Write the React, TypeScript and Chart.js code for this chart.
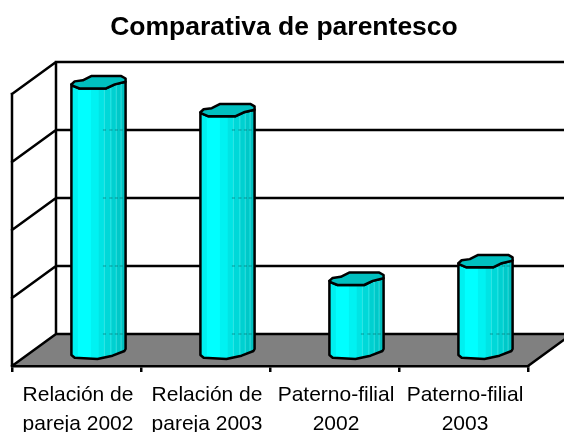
import React, { useEffect, useRef } from "react";
import { Chart, registerables } from "chart.js";

Chart.register(...registerables);

const categories = [
  ["Relación de", "pareja 2002"],
  ["Relación de", "pareja 2003"],
  ["Paterno-filial", "2002"],
  ["Paterno-filial", "2003"],
];
const values = [3.94, 3.53, 1.05, 1.31];
const titleText = "Comparativa de parentesco";

const DEPTH_X = 44;
const DEPTH_Y = 32;
const LINE = 2.5;

// cap and foot outlines of the low-polygon cylinder, as offsets from the axis
const capOutline: [number, number][] = [
  [-0.5, 2.3], [-0.44, -0.7], [-0.29, -1.8], [-0.135, -6], [0.42, -6], [0.5, -3.6],
  [0.5, -0.3], [0.3, 2.3], [0.14, 6.4], [-0.35, 6.4], [-0.47, 3.7],
];
const capFront: [number, number][] = [
  [0.5, -0.3], [0.3, 2.3], [0.14, 6.4], [-0.35, 6.4], [-0.47, 3.7], [-0.5, 2.3],
];
const footFront: [number, number][] = [
  [-0.5, 5], [-0.44, 7.7], [-0.02, 9], [0.26, 5.7], [0.48, 1], [0.5, -1],
];
const stripStops = [0, 0.12, 0.36, 0.5, 0.6, 0.72, 0.82, 0.91, 1];
const stripColors = ["#00F0F0", "#00FFFF", "#00F2F2", "#00E4E4", "#00D8D8", "#00D0D0", "#00C8C8", "#00C0C0"];

const scene3d = {
  id: "scene3d",
  beforeDraw(chart: any) {
    const { ctx, chartArea: a, scales } = chart;
    const y = scales.y;
    const y0 = y.getPixelForValue(y.min);
    const y1 = y.getPixelForValue(y.max);
    ctx.save();
    ctx.fillStyle = "#808080";
    ctx.beginPath();
    ctx.moveTo(a.left, y0);
    ctx.lineTo(a.right, y0);
    ctx.lineTo(a.right + DEPTH_X, y0 - DEPTH_Y);
    ctx.lineTo(a.left + DEPTH_X, y0 - DEPTH_Y);
    ctx.closePath();
    ctx.fill();
    ctx.strokeStyle = "#000";
    ctx.lineWidth = LINE;
    ctx.lineCap = "square";
    ctx.beginPath();
    for (const t of y.ticks) {
      const p = y.getPixelForValue(t.value);
      ctx.moveTo(a.left, p);
      ctx.lineTo(a.left + DEPTH_X, p - DEPTH_Y);
      ctx.lineTo(a.right + DEPTH_X, p - DEPTH_Y);
    }
    ctx.moveTo(a.left, y1);
    ctx.lineTo(a.left, y0);
    ctx.moveTo(a.left + DEPTH_X, y1 - DEPTH_Y);
    ctx.lineTo(a.left + DEPTH_X, y0 - DEPTH_Y);
    ctx.moveTo(a.right, y0);
    ctx.lineTo(a.right + DEPTH_X, y0 - DEPTH_Y);
    ctx.stroke();
    ctx.restore();
  },
  beforeDatasetsDraw(chart: any) {
    const { ctx, scales } = chart;
    const meta = chart.getDatasetMeta(0);
    const color = chart.data.datasets[0].backgroundColor;
    for (const bar of meta.data) {
      const { x, y, base, width } = bar.getProps(["x", "y", "base", "width"], true);
      const cx = x + DEPTH_X / 2;
      const top = y - DEPTH_Y / 2;
      const foot = base - DEPTH_Y / 2;
      const left = cx - width / 2;
      const body = () => {
        ctx.beginPath();
        capFront.forEach(([u, v], i) => {
          const px = cx + u * width;
          if (i === 0) ctx.moveTo(px, top + v);
          else ctx.lineTo(px, top + v);
        });
        footFront.forEach(([u, v]) => ctx.lineTo(cx + u * width, foot + v));
        ctx.closePath();
      };
      ctx.save();
      body();
      ctx.fillStyle = color;
      ctx.fill();
      ctx.clip();
      stripColors.forEach((c, i) => {
        ctx.fillStyle = c;
        const a = left + stripStops[i] * width;
        const b = left + stripStops[i + 1] * width;
        ctx.fillRect(a, top - 10, b - a, foot - top + 30);
        if (i >= 4) {
          ctx.fillStyle = "rgba(140,255,255,0.35)";
          ctx.fillRect(a, top - 10, 1, foot - top + 30);
          // the grid behind shows faintly through the seams of the facets
          ctx.fillStyle = "rgba(0,70,70,0.25)";
          for (const t of scales.y.ticks) {
            const p = scales.y.getPixelForValue(t.value) - DEPTH_Y;
            ctx.fillRect(a - 1, p - 1, 3, 2);
          }
        }
      });
      ctx.restore();

      ctx.save();
      ctx.lineWidth = LINE;
      ctx.strokeStyle = "#000";
      ctx.lineJoin = "round";
      body();
      ctx.stroke();
      ctx.beginPath();
      capOutline.forEach(([u, v], i) => {
        const px = cx + u * width;
        if (i === 0) ctx.moveTo(px, top + v);
        else ctx.lineTo(px, top + v);
      });
      ctx.closePath();
      ctx.fillStyle = "#00C0C0";
      ctx.fill();
      ctx.stroke();
      ctx.restore();
    }
    return false;
  },
};

const hiddenAxis = (position: string, size: number) => ({
  position,
  min: 0,
  max: 4,
  ticks: { display: false, stepSize: 1 },
  grid: { display: false },
  border: { display: false },
  afterFit: (s: any) => { s.width = size; },
});

export default function App() {
  const ref = useRef<HTMLCanvasElement>(null);
  useEffect(() => {
    const chart = new Chart(ref.current as HTMLCanvasElement, {
      type: "bar",
      data: {
        labels: categories as any,
        datasets: [{ data: values, backgroundColor: "#00FFFF", categoryPercentage: 0.42, barPercentage: 1 }],
      },
      options: {
        animation: false,
        responsive: false,
        layout: { padding: { left: 4, right: 0, top: 0, bottom: 0 } },
        plugins: {
          legend: { display: false },
          tooltip: { enabled: false },
          title: {
            display: true,
            text: titleText,
            color: "#000",
            font: { family: "'Liberation Sans'", size: 26.5, weight: "bold" },
            padding: { top: 12, bottom: 50.2 },
          },
        },
        scales: {
          x: {
            afterFit: (s: any) => { s.height = 66; },
            border: { display: true, color: "#000", width: LINE },
            grid: { drawOnChartArea: false, drawTicks: true, tickLength: 6, color: "#000", lineWidth: LINE },
            ticks: {
              autoSkip: false,
              maxRotation: 0,
              minRotation: 0,
              padding: 9,
              labelOffset: 1.5,
              color: "#000",
              font: { family: "'Liberation Sans'", size: 21, lineHeight: 1.36 },
            },
          },
          y: hiddenAxis("left", 8),
          yRight: hiddenAxis("right", 36),
        },
      },
      plugins: [scene3d],
    } as any);
    return () => chart.destroy();
  }, []);
  return <canvas ref={ref} width={564} height={432} style={{ position: "fixed", left: 0, top: 0, display: "block" }} />;
}
